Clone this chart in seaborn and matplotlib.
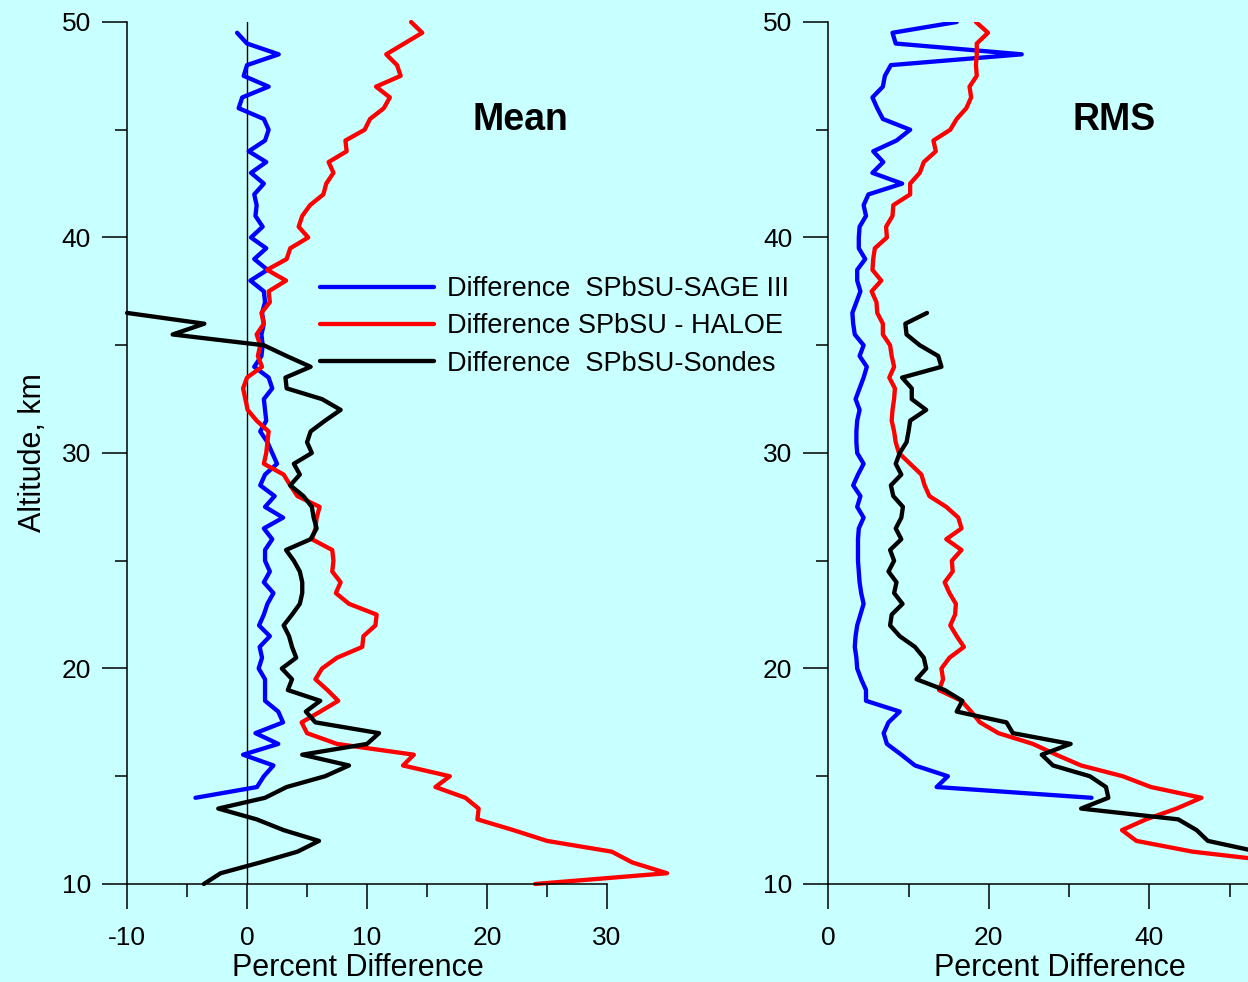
"""
Mean and RMS percent difference profiles, SPbSU vs SAGE III / HALOE / Sondes.
"""

import numpy as np
import pandas as pd
import matplotlib
matplotlib.use("Agg")
import matplotlib.pyplot as plt
from matplotlib.ticker import MultipleLocator
import seaborn as sns

BG = "#C8FFFF"
STEP = 0.5  # km, profiles are on a half-km grid

series_names = ["Difference  SPbSU-SAGE III", "Difference SPbSU - HALOE", "Difference  SPbSU-Sondes"]
series_colors = ["#0000FF", "#FF0000", "#000000"]

# ---- Mean panel (values from bottom altitude upward) ----
mean_sage_start = 14.0
mean_sage = [-4.3, 0.83, 1.4, 2.2, -0.33, 2.6, 0.7, 3.0, 2.6, 1.5,
             1.5, 1.5, 0.97, 1.25, 1.05, 1.9, 1.0, 1.4, 1.7, 2.2,
             1.4, 1.9, 1.5, 1.5, 2.1, 1.4, 3.0, 1.5, 2.3, 1.1,
             1.5, 2.5, 2.1, 1.7, 1.1, 1.6, 1.5, 1.4, 2.1, 1.8,
             0.6, 1.2, 1.3, 1.2, 1.4, 1.25, 1.5, 1.4, 0.28, 1.7,
             0.6, 1.6, 0.33, 1.3, 0.7, 0.8, 0.6, 1.4, 0.33, 1.6,
             0.14, 1.5, 1.8, 1.4, -0.7, -0.4, 1.8, -0.28, 0.0, 2.64,
             0.0, -0.83]

mean_haloe_start = 10.0
mean_haloe = [24.0, 35.0, 32.1, 30.4, 25.0, 22.2, 19.2, 19.3, 18.2, 15.7,
              16.9, 13.0, 13.9, 7.5, 5.0, 4.55, 6.1, 7.6, 6.7, 5.7,
              6.25, 7.5, 9.6, 9.7, 10.7, 10.8, 8.5, 7.4, 7.8, 7.1,
              7.2, 7.1, 5.4, 5.7, 5.8, 6.05, 4.2, 3.6, 3.05, 1.4,
              1.6, 1.7, 1.8, 0.8, 0.05, -0.14, -0.33, 0.0, 1.25, 0.9,
              1.1, 0.8, 1.4, 1.2, 1.9, 1.8, 3.25, 1.67, 3.3, 3.6,
              5.1, 4.3, 4.6, 5.25, 6.36, 6.6, 7.2, 6.8, 8.3, 8.2,
              9.8, 10.25, 11.4, 11.9, 10.75, 12.8, 12.5, 11.6, 13.1, 14.6,
              13.67]

mean_sondes_start = 10.0
mean_sondes = [-3.6, -2.2, 1.1, 4.2, 6.0, 3.05, 0.8, -2.4, 1.5, 3.3,
               6.5, 8.5, 4.6, 10.0, 11.0, 5.7, 4.9, 6.1, 3.4, 3.75,
               2.9, 4.1, 3.75, 3.5, 3.05, 3.75, 4.4, 4.6, 4.6, 4.4,
               3.9, 3.25, 5.3, 5.8, 5.55, 5.4, 4.7, 3.6, 4.4, 3.9,
               5.4, 5.0, 5.3, 6.5, 7.8, 6.25, 3.3, 3.2, 5.3, 3.3,
               1.4, -6.2, -3.56, -10.0]

# ---- RMS panel ----
rms_sage_start = 14.0
rms_sage = [32.8, 13.5, 14.9, 10.8, 9.1, 7.3, 6.9, 7.5, 8.9, 4.7,
            4.7, 4.1, 3.6, 3.5, 3.3, 3.4, 3.6, 4.0, 4.4, 4.1,
            3.9, 3.8, 3.7, 3.7, 3.7, 3.8, 4.4, 3.6, 4.0, 3.1,
            3.7, 4.4, 3.6, 3.5, 3.5, 3.6, 3.9, 3.4, 3.9, 4.4,
            4.8, 3.9, 4.4, 3.3, 3.1, 3.0, 3.5, 4.0, 3.6, 3.6,
            4.6, 3.8, 3.8, 3.9, 4.7, 4.4, 5.0, 9.2, 5.5, 6.85,
            5.6, 8.5, 10.2, 6.8, 6.1, 5.5, 6.8, 7.05, 7.8, 24.1,
            8.4, 8.0, 16.0]

rms_haloe_start = 11.0
rms_haloe = [57.0, 45.4, 38.4, 36.6, 39.6, 43.4, 46.5, 40.2, 36.7, 31.5,
             28.4, 25.5, 21.2, 18.9, 17.8, 16.6, 13.8, 14.3, 14.1, 15.1,
             16.9, 16.0, 15.2, 15.8, 15.9, 15.1, 14.5, 15.5, 15.4, 16.6,
             14.7, 16.6, 16.2, 14.7, 12.6, 12.0, 11.6, 10.2, 8.8, 8.4,
             8.2, 7.9, 8.0, 8.2, 8.3, 7.6, 8.2, 7.9, 7.7, 6.8,
             6.8, 6.1, 6.0, 5.4, 6.6, 5.5, 5.6, 5.8, 7.3, 7.2,
             8.0, 8.1, 10.2, 10.2, 11.4, 11.9, 13.4, 13.1, 15.2, 16.0,
             17.2, 17.8, 17.6, 18.5, 18.4, 18.5, 18.5, 19.9, 18.4]

rms_sondes_start = 11.5
rms_sondes = [53.5, 47.3, 45.9, 43.6, 31.5, 34.9, 34.6, 32.6, 28.0, 26.6,
              30.2, 23.0, 22.2, 16.0, 16.7, 14.5, 11.0, 12.2, 11.9, 10.8,
              8.9, 7.7, 7.9, 9.25, 8.2, 8.5, 7.5, 8.2, 7.7, 9.1,
              8.4, 9.1, 9.3, 8.1, 7.8, 9.1, 8.4, 8.9, 9.75, 10.0,
              10.2, 12.2, 10.4, 10.4, 9.2, 14.1, 13.7, 11.4, 9.75, 9.6,
              12.3]


def profile_frame(starts, values):
    rows = []
    for name, start, vals in zip(series_names, starts, values):
        alt = start + STEP * np.arange(len(vals))
        rows.append(pd.DataFrame({"alt": alt, "diff": vals, "series": name}))
    return pd.concat(rows, ignore_index=True)


df_mean = profile_frame([mean_sage_start, mean_haloe_start, mean_sondes_start],
                        [mean_sage, mean_haloe, mean_sondes])
df_rms = profile_frame([rms_sage_start, rms_haloe_start, rms_sondes_start],
                       [rms_sage, rms_haloe, rms_sondes])

sns.set_theme(style="ticks")
plt.rcParams["font.family"] = ["Liberation Sans", "DejaVu Sans"]
plt.rcParams.update({
    "axes.linewidth": 1.1,
    "axes.unicode_minus": False,
    "text.color": "black",
    "axes.labelcolor": "black",
    "axes.edgecolor": "black",
    "xtick.color": "black",
    "ytick.color": "black",
})

fig = plt.figure(figsize=(12.48, 9.82), dpi=100, facecolor=BG)
ax1 = fig.add_axes([0.1018, 0.0998, 0.3846, 0.8778], facecolor=BG)
ax2 = fig.add_axes([0.6637, 0.0998, 0.3363, 0.8778], facecolor=BG)

palette = dict(zip(series_names, series_colors))

for ax, df in [(ax1, df_mean), (ax2, df_rms)]:
    sns.lineplot(data=df, x="diff", y="alt", hue="series", hue_order=series_names,
                 palette=palette, orient="y", sort=False, estimator=None,
                 lw=3.1, legend=False, ax=ax)
    ax.set_ylim(10, 50)
    ax.yaxis.set_major_locator(MultipleLocator(10))
    ax.yaxis.set_minor_locator(MultipleLocator(5))
    ax.tick_params(which="major", length=18, width=1.1, labelsize=19, colors="black")
    ax.tick_params(which="minor", length=9, width=1.1, colors="black")
    ax.tick_params(axis="x", which="major", pad=12)
    ax.tick_params(axis="y", which="major", pad=8)
    sns.despine(ax=ax)
    ax.set_xlabel("Percent Difference", fontsize=22)
    ax.set_ylabel("")

# Mean panel
ax1.set_xlim(-10, 30)
ax1.xaxis.set_major_locator(MultipleLocator(10))
ax1.xaxis.set_minor_locator(MultipleLocator(5))
for ln in ax1.lines:
    ln.set_clip_on(False)
ax1.axvline(0, color="black", lw=1.0, zorder=1)
ax1.set_ylabel("Altitude, km", fontsize=22)
ax1.yaxis.set_label_coords(-0.165, 0.5)
ax1.xaxis.set_label_coords(0.481, -0.08)
ax1.text(0.819, 0.886, "Mean", transform=ax1.transAxes, fontsize=27,
         fontweight="bold", ha="center", va="center")

handles = ax1.lines[:3]
ax1.legend(handles, series_names, loc="upper left",
           bbox_to_anchor=(320 / 1248, 1 - 276 / 982), bbox_transform=fig.transFigure,
           frameon=False, fontsize=19.5, handlelength=4.2, handletextpad=0.5,
           labelspacing=0.42, borderpad=0, borderaxespad=0)

# RMS panel
ax2.set_xlim(0, 52.3)
ax2.xaxis.set_major_locator(MultipleLocator(20))
ax2.xaxis.set_minor_locator(MultipleLocator(10))
ax2.xaxis.set_label_coords(0.552, -0.08)
ax2.text(0.681, 0.886, "RMS", transform=ax2.transAxes, fontsize=27,
         fontweight="bold", ha="center", va="center")

fig.savefig("out.png", dpi=100, facecolor=BG)
plt.close(fig)
